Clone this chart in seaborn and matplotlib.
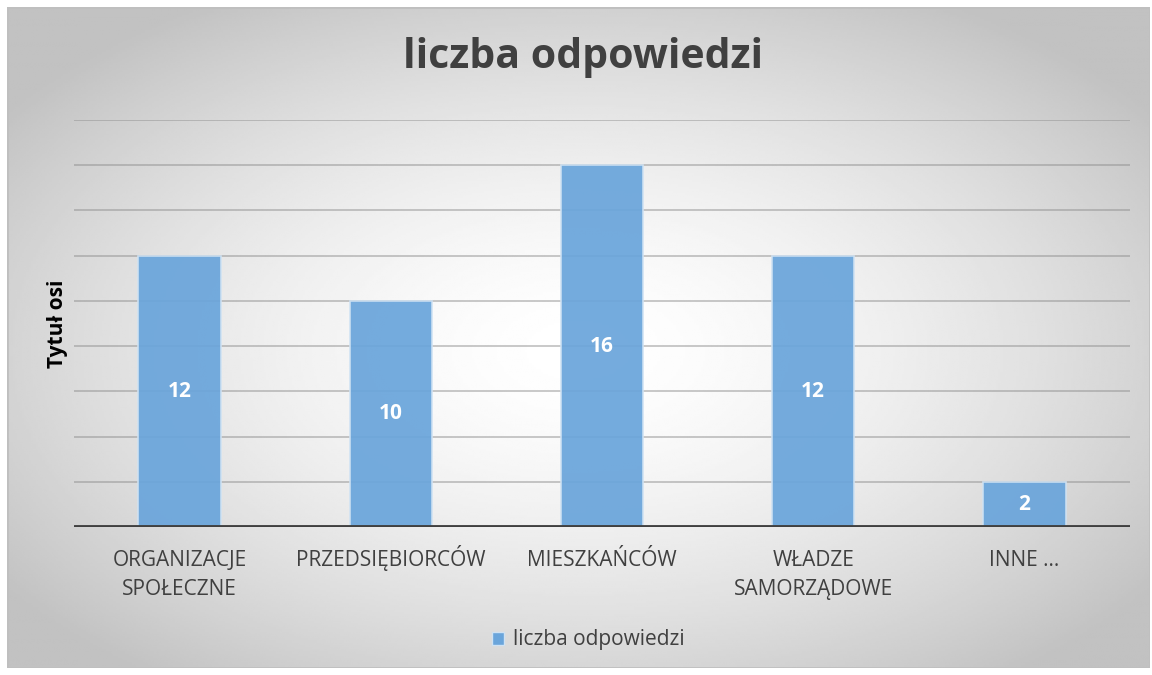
"""Bar chart: liczba odpowiedzi per respondent group."""

import matplotlib.pyplot as plt
import matplotlib.transforms as mtransforms
import numpy as np
import pandas as pd
import seaborn as sns
from matplotlib.patches import Patch, Rectangle

categories = ["ORGANIZACJE\nSPOŁECZNE", "PRZEDSIĘBIORCÓW", "MIESZKAŃCÓW",
              "WŁADZE\nSAMORZĄDOWE", "INNE ..."]
values = [12, 10, 16, 12, 2]
series_name = "liczba odpowiedzi"
y_max = 18
y_grid = [2, 4, 6, 8, 10, 12, 14, 16, 18]

BAR_COLOR = "#6aa5db"
EDGE_COLOR = "#cfe2f3"
TEXT_COLOR = "#404040"

sns.set_theme(style="white")
plt.rcParams["font.family"] = ["Open Sans", "DejaVu Sans"]

df = pd.DataFrame({"grupa": categories, "liczba": values, "seria": series_name})

fig = plt.figure(figsize=(11.52, 6.75), dpi=100)
fig.patch.set_facecolor("white")

# radial grey-to-white background inside the chart frame
bg = fig.add_axes([7 / 1152, 7 / 675, 1143 / 1152, 661 / 675], zorder=0)
yy, xx = np.mgrid[0:1:300j, 0:1:500j]
r = np.sqrt(((xx - 0.5) / 0.62) ** 2 + ((yy - 0.52) / 0.62) ** 2)
shade = 1.0 - 0.24 * np.clip(r, 0, 1) ** 1.6
bg.imshow(shade, cmap="gray", vmin=0, vmax=1, aspect="auto",
          extent=(0, 1, 0, 1), interpolation="bilinear")
bg.add_patch(Rectangle((0, 0), 1, 1, transform=bg.transAxes, fill=False,
                       edgecolor="#bfbfbf", lw=2))
bg.set_axis_off()

ax = fig.add_axes([74 / 1152, 1 - 527 / 675, 1056 / 1152, (527 - 120) / 675], zorder=1)
ax.patch.set_alpha(0)

sns.barplot(data=df, x="grupa", y="liczba", hue="seria", palette=[BAR_COLOR],
            width=0.39, ax=ax, legend=False, alpha=0.93, saturation=1,
            edgecolor=EDGE_COLOR, linewidth=1.2, zorder=2)

for g in y_grid:
    ax.axhline(g, color="#8c8c8c", lw=1.2, alpha=0.55, zorder=1)
ax.axhline(0, color=TEXT_COLOR, lw=3.5, zorder=3)

for bar, v in zip(ax.patches, values):
    ax.text(bar.get_x() + bar.get_width() / 2, v / 2, str(v), ha="center",
            va="center", color="white", fontsize=15, fontweight="bold", zorder=4)

ax.set_ylim(0, y_max)
ax.set_xlim(-0.5, len(categories) - 0.5)
ax.set_yticks([])
ax.set_xlabel("")
ax.set_ylabel("Tytuł osi", fontsize=15, fontweight="bold", color="black", labelpad=4)
ax.tick_params(axis="x", length=0)
ax.set_xticklabels([])
sns.despine(ax=ax, left=True, bottom=True)

# category labels: each line placed on its own baseline (first line aligned for all)
for i, label in enumerate(categories):
    for j, line in enumerate(label.split("\n")):
        off = mtransforms.ScaledTranslation(0, -(39 + 29 * j) / 100, fig.dpi_scale_trans)
        ax.text(i, 0, line, transform=ax.get_xaxis_transform() + off, ha="center",
                va="baseline", fontsize=15, color=TEXT_COLOR)

fig.text(583 / 1152, 1 - 58 / 675, series_name, ha="center", va="center",
         fontsize=29.5, fontweight="bold", color=TEXT_COLOR)

fig.legend(handles=[Patch(facecolor=BAR_COLOR, edgecolor=EDGE_COLOR)],
           labels=[series_name], loc="center", bbox_to_anchor=(588 / 1152, 1 - 640 / 675),
           frameon=False, fontsize=15, handlelength=0.6, handleheight=0.6,
           handletextpad=0.4, labelcolor=TEXT_COLOR)

fig.savefig("out.png", dpi=100)
